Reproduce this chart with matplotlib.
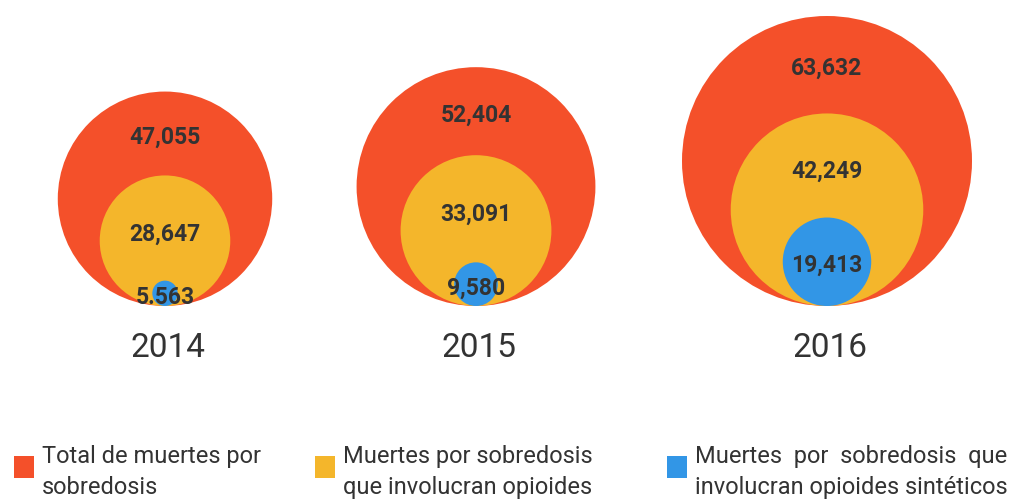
import matplotlib
matplotlib.use("Agg")
from matplotlib import pyplot as plt
from matplotlib.patches import Circle, Rectangle

# data
years = ["2014", "2015", "2016"]
total = [47055, 52404, 63632]
opioides = [28647, 33091, 42249]
sinteticos = [5563, 9580, 19413]
labels_total = ["47,055", "52,404", "63,632"]
labels_opioides = ["28,647", "33,091", "42,249"]
labels_sinteticos = ["5.563", "9,580", "19,413"]
legend_text = ["Total de muertes por\nsobredosis",
               "Muertes por sobredosis\nque involucran opioides",
               "Muertes  por  sobredosis  que\ninvolucran opioides sintéticos"]

RED = "#F4502A"
YEL = "#F4B62B"
BLUE = "#3296E6"
TXT = "#333333"
FONT = ["Roboto", "DejaVu Sans"]

fig = plt.figure(figsize=(10.28, 4.99), dpi=100)
ax = fig.add_axes([0, 0, 1, 1])
ax.set_xlim(0, 1028)
ax.set_ylim(499, 0)
ax.set_aspect("equal")
ax.axis("off")

# radius proportional to value
k = 145.0 / 63632
centers = [165, 476, 827]
base = 306

for i in range(3):
    cx = centers[i]
    # circles sitting on the same baseline
    for val, col in [(total[i], RED), (opioides[i], YEL), (sinteticos[i], BLUE)]:
        r = val * k
        ax.add_patch(Circle((cx, base - r), r, color=col, lw=0))
    top_r = base - 2 * total[i] * k
    top_y = base - 2 * opioides[i] * k
    top_b = base - 2 * sinteticos[i] * k
    ax.text(cx, (top_r + top_y) / 2 + 4, labels_total[i], ha="center", va="center",
            fontsize=16.5, fontweight="bold", color=TXT, family=FONT)
    ax.text(cx, (top_y + top_b) / 2 + 6, labels_opioides[i], ha="center", va="center",
            fontsize=16.5, fontweight="bold", color=TXT, family=FONT)
    ax.text(cx, base - sinteticos[i] * k + 4, labels_sinteticos[i], ha="center", va="center",
            fontsize=16.5, fontweight="bold", color=TXT, family=FONT)
    ax.text(cx + 3, 348, years[i], ha="center", va="center", fontsize=24,
            color=TXT, family=FONT)

# legend
leg_x = [14, 315, 667]
for x, col, t in zip(leg_x, [RED, YEL, BLUE], legend_text):
    ax.add_patch(Rectangle((x, 456), 20, 22, color=col, lw=0))
    ax.text(x + 28, 472, t, ha="left", va="center", fontsize=17,
            color=TXT, family=FONT, linespacing=1.4)

fig.savefig("out.png", dpi=100)
